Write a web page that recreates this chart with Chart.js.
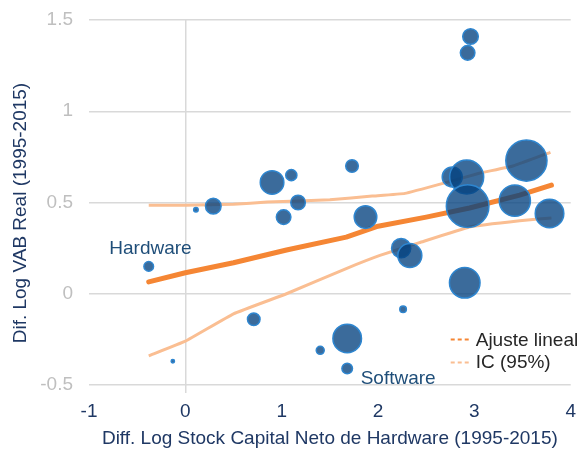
<!DOCTYPE html>
<html>
<head>
<meta charset="utf-8">
<script src="https://cdn.jsdelivr.net/npm/chart.js@4.4.1/dist/chart.umd.min.js"></script>
<style>
  html, body { margin: 0; padding: 0; background: #fff; }
  #wrap { width: 583px; height: 452px; }
</style>
</head>
<body>
<div id="wrap"><canvas id="myChart" width="583" height="452"></canvas></div>
<script>
// valores
const stockX = [-0.38, -0.13, 0.11, 0.29, 0.90, 1.10, 1.17, 1.02, 1.73, 1.87, 0.71, 1.40, 1.68,
  1.68, 2.96, 2.93, 2.77, 2.92, 2.93, 3.54, 3.42, 3.78, 2.24, 2.33, 2.90, 2.26];
const vabY = [0.15, -0.37, 0.46, 0.48, 0.61, 0.65, 0.50, 0.42, 0.70, 0.42, -0.14, -0.31, -0.245,
  -0.41, 1.41, 1.32, 0.64, 0.64, 0.48, 0.73, 0.51, 0.44, 0.25, 0.21, 0.06, -0.085];
const pesos = [5.8, 0.7, 1.3, 15.2, 34.8, 7.8, 13.3, 13.3, 9.9, 31.9, 9.9, 4, 51.1,
  7.0, 15.2, 13.3, 25, 72.3, 113.4, 106.1, 60.8, 51.1, 23, 36, 58.5, 2.7];

const ajusteX = [-0.38, 0, 0.5, 1.05, 1.67, 2.0, 2.5, 2.95, 3.47, 3.8];
const ajusteY = [0.065, 0.115, 0.17, 0.24, 0.31, 0.37, 0.42, 0.47, 0.54, 0.595];

const icSupX = [-0.38, 0, 0.5, 0.85, 1.5, 1.94, 2.28, 2.71, 3.05, 3.40, 3.79];
const icSupY = [0.485, 0.485, 0.49, 0.503, 0.515, 0.535, 0.55, 0.61, 0.66, 0.70, 0.775];

const icInfX = [-0.38, 0, 0.5, 1.05, 1.67, 2.02, 2.43, 2.95, 3.47, 3.8];
const icInfY = [-0.34, -0.26, -0.11, 0.0, 0.138, 0.21, 0.28, 0.366, 0.40, 0.415];

const xTicks = [-1, 0, 1, 2, 3, 4];
const yTicks = [-0.5, 0, 0.5, 1, 1.5];

const etiquetas = [
  { text: 'Hardware', x: -0.362, y: 0.22, align: 'center' },
  { text: 'Software', x: 1.82, y: -0.492, align: 'left' }
];

const FONT = '"Liberation Sans", Arial, sans-serif';
const NAVY = '#1F3864';
const AZUL = '#1F4E79';
const NARANJA = 'rgb(245,134,52)';
const NARANJA_CLARO = 'rgb(250,190,146)';

function toPoints(xs, ys) {
  return xs.map((x, i) => ({ x: x, y: ys[i] }));
}

const burbujas = stockX.map((x, i) => ({ x: x, y: vabY[i], r: 2 * Math.sqrt(pesos[i]) }));

// etiquetas de texto y leyenda dentro del area
const textosPlugin = {
  id: 'textos',
  afterDraw(chart) {
    const ctx = chart.ctx;
    const xs = chart.scales.x;
    const ys = chart.scales.y;
    ctx.save();
    ctx.font = '19px ' + FONT;
    ctx.fillStyle = AZUL;
    ctx.textBaseline = 'alphabetic';
    etiquetas.forEach((et) => {
      ctx.textAlign = et.align;
      ctx.fillText(et.text, xs.getPixelForValue(et.x), ys.getPixelForValue(et.y));
    });

    const area = chart.chartArea;
    const items = [
      { text: 'Ajuste lineal', color: NARANJA, base: 345.5, line: 339.5 },
      { text: 'IC (95%)', color: NARANJA_CLARO, base: 368, line: 362.5 }
    ];
    ctx.textAlign = 'left';
    ctx.fillStyle = '#262626';
    items.forEach((it) => {
      const lx = area.right - 120;
      ctx.beginPath();
      ctx.setLineDash([4, 3]);
      ctx.strokeStyle = it.color;
      ctx.lineWidth = 2;
      ctx.moveTo(lx, it.line);
      ctx.lineTo(lx + 18, it.line);
      ctx.stroke();
      ctx.setLineDash([]);
      ctx.fillText(it.text, lx + 25, it.base);
    });
    ctx.restore();
  }
};

const ctx = document.getElementById('myChart').getContext('2d');
const myChart = new Chart(ctx, {
  type: 'bubble',
  data: {
    datasets: [
      {
        label: 'Sectores',
        data: burbujas,
        backgroundColor: 'rgba(4,65,127,0.78)',
        borderColor: 'rgb(46,134,208)',
        borderWidth: 1.5,
        order: 0
      },
      {
        type: 'line',
        label: 'Ajuste lineal',
        data: toPoints(ajusteX, ajusteY),
        borderColor: NARANJA,
        borderWidth: 5,
        pointRadius: 0,
        tension: 0,
        borderCapStyle: 'round',
        borderJoinStyle: 'round',
        order: 1
      },
      {
        type: 'line',
        label: 'IC (95%)',
        data: toPoints(icSupX, icSupY),
        borderColor: NARANJA_CLARO,
        borderWidth: 3,
        pointRadius: 0,
        tension: 0.1,
        borderJoinStyle: 'round',
        order: 2
      },
      {
        type: 'line',
        label: 'IC inf',
        data: toPoints(icInfX, icInfY),
        borderColor: NARANJA_CLARO,
        borderWidth: 3,
        pointRadius: 0,
        tension: 0.1,
        borderJoinStyle: 'round',
        order: 2
      }
    ]
  },
  options: {
    responsive: false,
    animation: false,
    layout: { autoPadding: false, padding: { top: 20, right: 11, left: 0, bottom: 0 } },
    plugins: {
      legend: { display: false },
      tooltip: { enabled: false }
    },
    scales: {
      x: {
        type: 'linear',
        min: -1,
        max: 4,
        afterBuildTicks: (scale) => { scale.ticks = xTicks.map((v) => ({ value: v })); },
        afterFit: (scale) => { scale.height = 67; },
        border: { display: false },
        grid: {
          color: (c) => (c.tick && c.tick.value === 0 ? '#D9D9D9' : 'rgba(0,0,0,0)'),
          lineWidth: 1.5,
          drawTicks: true,
          tickLength: 8
        },
        ticks: {
          color: NAVY,
          font: { family: FONT, size: 19 },
          padding: 7,
          callback: (v) => String(v)
        },
        title: {
          display: true,
          text: 'Diff. Log Stock Capital Neto de Hardware (1995-2015)',
          color: NAVY,
          font: { family: FONT, size: 19 },
          padding: { top: 0, bottom: 2 }
        }
      },
      y: {
        min: -0.5,
        max: 1.5,
        afterBuildTicks: (scale) => { scale.ticks = yTicks.map((v) => ({ value: v })); },
        afterFit: (scale) => { scale.width = 89; },
        border: { display: false },
        // marcas invisibles para separar las etiquetas del area
        grid: { color: '#D9D9D9', lineWidth: 1.5, drawTicks: true, tickLength: 16, tickColor: 'rgba(0,0,0,0)' },
        ticks: {
          color: '#BFBFBF',
          font: { family: FONT, size: 19 },
          padding: 0,
          callback: (v) => String(v)
        },
        title: {
          display: true,
          text: 'Dif. Log VAB Real (1995-2015)    ',
          color: NAVY,
          font: { family: FONT, size: 19 },
          padding: { top: 9, bottom: 0 }
        }
      }
    }
  },
  plugins: [textosPlugin]
});
console.log('chartArea--', myChart.chartArea);
</script>
</body>
</html>
